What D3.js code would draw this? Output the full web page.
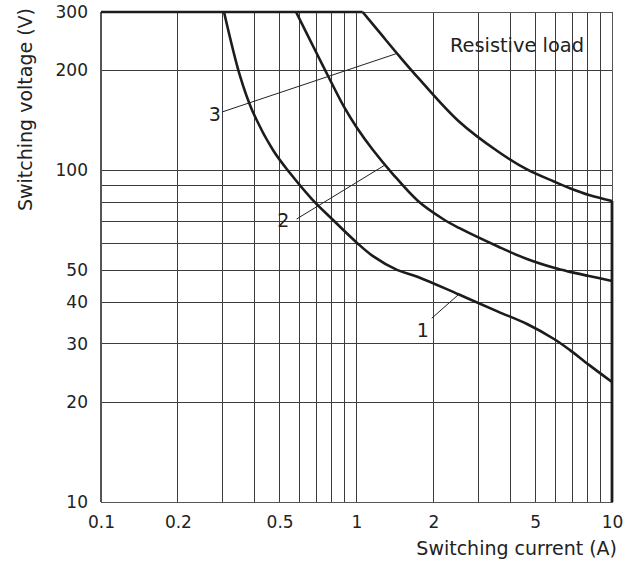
<!DOCTYPE html>
<html>
<head>
<meta charset="utf-8">
<script src="https://cdn.jsdelivr.net/npm/d3@7"></script>
<style>
  html, body { margin: 0; padding: 0; background: #fff; }
  svg { display: block; }
  text { font-family: "DejaVu Sans", sans-serif; fill: #222; }
</style>
</head>
<body>
<svg id="chart" width="641" height="562"></svg>
<script>
// ---- data (current in A, voltage in V) ----
const curve1Current = [0.303, 0.35, 0.39, 0.471, 0.549, 0.669, 0.802, 1.005, 1.16, 1.44, 1.741, 2.519, 3.579, 4.649, 5.929, 6.848, 8.128, 10];
const curve1Voltage = [300, 192.4, 152, 115.1, 98.1, 81.9, 71.3, 60.4, 55.1, 50.1, 47.7, 42.2, 37.5, 34.4, 31.0, 28.7, 25.9, 23.0];

const curve2Current = [0.58, 0.688, 0.774, 0.894, 1.005, 1.16, 1.377, 1.741, 2.181, 2.519, 3.612, 4.649, 5.929, 6.848, 8.128, 10];
const curve2Voltage = [300, 230.5, 192.4, 155.2, 134.1, 115.1, 98.1, 80.8, 71.3, 67.0, 58.7, 54.0, 50.8, 49.4, 48.0, 46.4];

const curve3Current = [1.057, 1.236, 1.48, 1.773, 2.519, 3.579, 4.649, 5.929, 6.848, 8.128, 10];
const curve3Voltage = [300, 259.4, 219.6, 187.2, 140.3, 113.9, 100.6, 92.5, 88.3, 84.2, 80.8];

const curveNames = ["1", "2", "3"];
// label centre [current, voltage] and leader line ends
const labelAt    = [[1.816, 33.0], [0.517, 70.5], [0.279, 147.8]];
const leaderFrom = [[1.97, 35.8], [0.583, 71.3], [0.298, 149.9]];
const leaderTo   = [[2.525, 42.4], [1.292, 103.7], [1.44, 225]];

const xTickValues = [0.1, 0.2, 0.5, 1, 2, 5, 10];
const yTickValues = [10, 20, 30, 40, 50, 100, 200, 300];
const xGridValues = [0.2, 0.3, 0.4, 0.5, 0.6, 0.7, 0.8, 0.9, 1, 2, 3, 4, 5, 6, 7, 8, 9];
const yGridValues = [20, 30, 40, 50, 60, 70, 80, 90, 100, 200];

const xDomain = [0.1, 10];
const yDomain = [10, 300];
const xTitle = "Switching current (A)";
const yTitle = "Switching voltage (V)";
const noteText = "Resistive load";

// ---- layout ----
const svg = d3.select("#chart");
const W = 641, H = 562;
const m = { left: 101, right: 29, top: 12, bottom: 60 };
const x = d3.scaleLog().domain(xDomain).range([m.left, W - m.right]);
const y = d3.scaleLog().domain(yDomain).range([H - m.bottom, m.top]);

const ink = "#1c1c1c";

// grid
const grid = svg.append("g").attr("shape-rendering", "crispEdges");
grid.selectAll("line.vx").data(xGridValues).enter().append("line")
  .attr("x1", d => x(d)).attr("x2", d => x(d))
  .attr("y1", y(yDomain[0])).attr("y2", y(yDomain[1]))
  .attr("stroke", "#3c3c3c").attr("stroke-width", 1);
grid.selectAll("line.hy").data(yGridValues).enter().append("line")
  .attr("y1", d => y(d)).attr("y2", d => y(d))
  .attr("x1", x(xDomain[0])).attr("x2", x(xDomain[1]))
  .attr("stroke", "#3c3c3c").attr("stroke-width", 1);

// frame
grid.append("rect")
  .attr("x", x(xDomain[0])).attr("y", y(yDomain[1]))
  .attr("width", x(xDomain[1]) - x(xDomain[0]))
  .attr("height", y(yDomain[0]) - y(yDomain[1]))
  .attr("fill", "none").attr("stroke", "#555").attr("stroke-width", 1);
grid.append("line")
  .attr("x1", x(xDomain[0])).attr("x2", x(xDomain[0]))
  .attr("y1", y(yDomain[0])).attr("y2", y(yDomain[1]))
  .attr("stroke", "#555").attr("stroke-width", 1.5);

// curves
const series = [
  d3.zip(curve1Current, curve1Voltage),
  d3.zip(curve2Current, curve2Voltage),
  d3.zip(curve3Current, curve3Voltage)
];
const line = d3.line().x(d => x(d[0])).y(d => y(d[1])).curve(d3.curveCatmullRom.alpha(0.5));
svg.append("g").selectAll("path").data(series).enter().append("path")
  .attr("d", line)
  .attr("fill", "none").attr("stroke", ink).attr("stroke-width", 2.6)
  .attr("stroke-linejoin", "round");

// envelope: top limit up to curve 3 start, right limit below curve 3 end
const top3 = series[2][0];
const end3 = series[2][series[2].length - 1];
svg.append("path")
  .attr("d", d3.line()([[x(xDomain[0]), y(top3[1])], [x(top3[0]), y(top3[1])]]))
  .attr("stroke", ink).attr("stroke-width", 2.6).attr("fill", "none");
svg.append("path")
  .attr("d", d3.line()([[x(end3[0]), y(end3[1])], [x(end3[0]), y(yDomain[0])]]))
  .attr("stroke", ink).attr("stroke-width", 2.8).attr("fill", "none");

// leaders and curve labels
const ann = svg.append("g");
curveNames.forEach((name, i) => {
  ann.append("line")
    .attr("x1", x(leaderFrom[i][0])).attr("y1", y(leaderFrom[i][1]))
    .attr("x2", x(leaderTo[i][0])).attr("y2", y(leaderTo[i][1]))
    .attr("stroke", "#222").attr("stroke-width", 1);
  ann.append("text")
    .attr("x", x(labelAt[i][0])).attr("y", y(labelAt[i][1]))
    .attr("text-anchor", "middle").attr("dy", "0.36em")
    .attr("font-size", 19)
    .text(name);
});

// axes (labels only)
const xAxis = d3.axisBottom(x).tickValues(xTickValues).tickSize(0).tickPadding(14)
  .tickFormat(d3.format("~g"));
const gx = svg.append("g").attr("transform", `translate(0,${y(yDomain[0])})`).call(xAxis);
gx.select(".domain").remove();
gx.selectAll("text").attr("font-size", 17).attr("font-family", "DejaVu Sans").attr("fill", "#222");

const yAxis = d3.axisLeft(y).tickValues(yTickValues).tickSize(0).tickPadding(13)
  .tickFormat(d3.format("~g"));
const gy = svg.append("g").attr("transform", `translate(${x(xDomain[0])},0)`).call(yAxis);
gy.select(".domain").remove();
gy.selectAll("text").attr("font-size", 17).attr("font-family", "DejaVu Sans").attr("fill", "#222");

// titles
svg.append("text")
  .attr("x", 617).attr("y", 555)
  .attr("text-anchor", "end").attr("font-size", 19)
  .text(xTitle);
svg.append("text")
  .attr("transform", "translate(32,8) rotate(-90)")
  .attr("text-anchor", "end").attr("font-size", 19)
  .text(yTitle);

// note
svg.append("text")
  .attr("x", 584).attr("y", 52)
  .attr("text-anchor", "end").attr("font-size", 19.4)
  .text(noteText);
</script>
</body>
</html>
